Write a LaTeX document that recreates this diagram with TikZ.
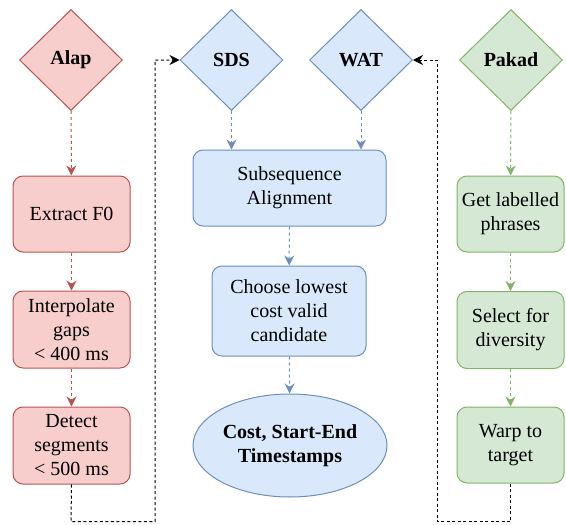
\documentclass[tikz,border=0pt]{standalone}
\usepackage{fontspec}
\setmainfont{Liberation Serif}
\usetikzlibrary{shapes.geometric,arrows.meta}
\definecolor{rfill}{HTML}{F8CECC}\definecolor{rline}{HTML}{B85450}
\definecolor{bfill}{HTML}{DAE8FC}\definecolor{bline}{HTML}{6C8EBF}
\definecolor{gfill}{HTML}{D5E8D4}\definecolor{gline}{HTML}{82B366}
\begin{document}
\begin{tikzpicture}[x=1pt,y=-1pt,
  txt/.style={font=\fontsize{20}{24}\selectfont, align=center},
  dia/.style={diamond, draw, line width=1pt, minimum width=103pt, minimum height=101pt, inner sep=0pt, txt, font=\fontsize{20}{24}\selectfont\bfseries},
  box/.style={rectangle, rounded corners=10pt, draw, line width=1pt, inner sep=0pt, txt},
  red/.style={fill=rfill, draw=rline},
  blue/.style={fill=bfill, draw=bline},
  green/.style={fill=gfill, draw=gline},
  flow/.style={line width=1pt, dash pattern=on 3pt off 3pt, -{Stealth[length=10pt,width=10pt]}},
  loop/.style={line width=1pt, black, dash pattern=on 3pt off 2.5pt, -{Stealth[length=10pt,width=10pt]}}]
\useasboundingbox (0,0) rectangle (566,525);
% Alap column
\node[dia, red] (alap) at (71,60) {Alap};
\node[box, red, minimum width=117pt, minimum height=76pt] (b1) at (71.5,214) {Extract F0};
\node[box, red, minimum width=117pt, minimum height=77pt] (b2) at (71.5,329.5) {Interpolate\\gaps\\< 400 ms};
\node[box, red, minimum width=117pt, minimum height=77pt] (b3) at (71.5,445.5) {Detect\\segments\\< 500 ms};
% Middle
\node[dia, blue] (sds) at (231.5,60) {SDS};
\node[dia, blue] (wat) at (361,60) {WAT};
\node[box, blue, minimum width=193pt, minimum height=76pt] (m1) at (289.5,188) {Subsequence\\Alignment};
\node[box, blue, minimum width=154pt, minimum height=90pt] (m2) at (289,311) {Choose lowest\\cost valid\\candidate};
\node[ellipse, draw=bline, fill=bfill, line width=1pt, minimum width=194pt, minimum height=103pt, inner sep=0pt, align=center, font=\fontsize{20}{24}\selectfont\bfseries] (m3) at (290,445.5) {Cost, Start-End\\Timestamps};
% Pakad column
\node[dia, green] (pakad) at (511,60) {Pakad};
\node[box, green, minimum width=107pt, minimum height=76pt] (g1) at (510.5,214) {Get labelled\\phrases};
\node[box, green, minimum width=107pt, minimum height=77pt] (g2) at (510.5,330) {Select for\\diversity};
\node[box, green, minimum width=107pt, minimum height=76pt] (g3) at (510.5,445) {Warp to\\target};
% flows
\draw[flow, rline] (alap) -- (b1);
\draw[flow, rline] (b1) -- (b2);
\draw[flow, rline] (b2) -- (b3);
\draw[flow, bline] (sds.south) -- (sds.south |- m1.north);
\draw[flow, bline] (wat.south) -- (wat.south |- m1.north);
\draw[flow, bline] (m1) -- (m2);
\draw[flow, bline] (m2) -- (m3);
\draw[flow, gline] (pakad) -- (g1);
\draw[flow, gline] (g1) -- (g2);
\draw[flow, gline] (g2) -- (g3);
% loops
\coordinate (l1) at (71,521.5);
\coordinate (l2) at (155,521.5);
\coordinate (l3) at (155,60);
\draw[loop] (b3.south) -- (l1) -- (l2) -- (l3) -- (sds.west);
\coordinate (r1) at (510.5,521.5);
\coordinate (r2) at (437,521.5);
\coordinate (r3) at (437,60);
\draw[loop] (g3.south) -- (r1) -- (r2) -- (r3) -- (wat.east);
\end{tikzpicture}
\end{document}
